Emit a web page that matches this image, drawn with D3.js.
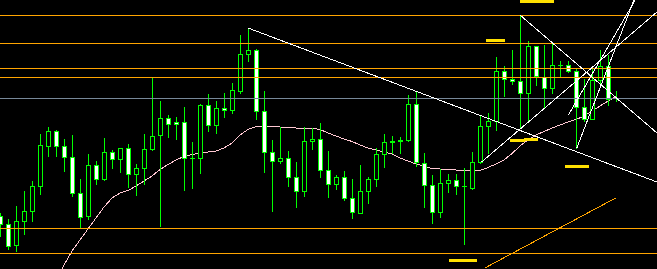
<!DOCTYPE html>
<html lang="en">
<head>
<meta charset="UTF-8">
<title>Candles</title>
<script src="https://d3js.org/d3.v7.min.js"></script>
<style>
  html, body { margin: 0; padding: 0; background: #000; overflow: hidden; }
  svg { display: block; }
</style>
</head>
<body>
<svg width="657" height="269"></svg>
<script>
// candle OHLC, one entry per bar
var opens  = [1.2484,1.2476,1.2455,1.2479,1.2489,1.2514,1.2554,1.2569,1.2554,1.2543,
              1.2507,1.2484,1.2535,1.2521,1.2548,1.2541,1.2552,1.2526,1.2532,1.2551,
              1.2565,1.2582,1.2578,1.2578,1.2542,1.2542,1.2595,1.2575,1.2592,1.2590,
              1.2609,1.2646,1.2650,1.2589,1.2548,1.2539,1.2542,1.2523,1.2509,1.2559,
              1.2561,1.2530,1.2516,1.2523,1.2502,1.2487,1.2509,1.2521,1.2546,1.2558,
              1.2559,1.2560,1.2596,1.2537,1.2515,1.2488,1.2517,1.2520,1.2514,1.2512,
              1.2538,1.2574,1.2579,1.2629,1.2621,1.2619,1.2607,1.2654,1.2623,1.2612,
              1.2635,1.2635,1.2629,1.2593,1.2581,1.2620,1.2634,1.2602];
var highs  = [1.2487,1.2481,1.2494,1.2509,1.2519,1.2566,1.2573,1.2570,1.2561,1.2565,
              1.2521,1.2546,1.2539,1.2562,1.2550,1.2552,1.2556,1.2536,1.2566,1.2623,
              1.2599,1.2585,1.2583,1.2593,1.2558,1.2596,1.2606,1.2599,1.2607,1.2617,
              1.2665,1.2672,1.2651,1.2609,1.2560,1.2573,1.2549,1.2538,1.2573,1.2572,
              1.2577,1.2549,1.2525,1.2529,1.2521,1.2535,1.2523,1.2552,1.2566,1.2564,
              1.2563,1.2605,1.2608,1.2547,1.2525,1.2531,1.2526,1.2526,1.2532,1.2548,
              1.2585,1.2587,1.2643,1.2634,1.2650,1.2685,1.2659,1.2654,1.2655,1.2658,
              1.2639,1.2639,1.2632,1.2621,1.2632,1.2650,1.2645,1.2609];
var lows   = [1.2464,1.2451,1.2449,1.2466,1.2479,1.2506,1.2544,1.2544,1.2529,1.2504,
              1.2473,1.2481,1.2516,1.2520,1.2532,1.2528,1.2513,1.2505,1.2516,1.2550,
              1.2474,1.2563,1.2561,1.2510,1.2512,1.2527,1.2569,1.2567,1.2583,1.2587,
              1.2607,1.2639,1.2581,1.2528,1.2489,1.2537,1.2514,1.2493,1.2504,1.2551,
              1.2523,1.2503,1.2511,1.2500,1.2482,1.2487,1.2497,1.2514,1.2533,1.2547,
              1.2547,1.2559,1.2534,1.2493,1.2477,1.2483,1.2508,1.2506,1.2456,1.2511,
              1.2537,1.2547,1.2570,1.2604,1.2616,1.2572,1.2579,1.2615,1.2592,1.2607,
              1.2623,1.2628,1.2552,1.2579,1.2581,1.2615,1.2595,1.2599];
var closes = [1.2476,1.2454,1.2479,1.2489,1.2514,1.2555,1.2569,1.2554,1.2543,1.2507,
              1.2483,1.2535,1.2521,1.2548,1.2541,1.2552,1.2526,1.2532,1.2551,1.2564,
              1.2582,1.2576,1.2576,1.2542,1.2542,1.2595,1.2575,1.2592,1.2590,1.2610,
              1.2646,1.2650,1.2589,1.2548,1.2539,1.2542,1.2523,1.2509,1.2559,1.2561,
              1.2530,1.2516,1.2523,1.2502,1.2488,1.2509,1.2521,1.2546,1.2558,1.2559,
              1.2560,1.2596,1.2538,1.2515,1.2488,1.2517,1.2520,1.2514,1.2514,1.2538,
              1.2574,1.2579,1.2629,1.2621,1.2619,1.2607,1.2654,1.2624,1.2612,1.2635,
              1.2635,1.2629,1.2593,1.2581,1.2620,1.2634,1.2601,1.2602];

// moving average, starts at bar 7
var maStart = 7;
var maValues = [1.2417,1.2435,1.2449,1.2460,1.2471,1.2482,1.2493,1.2502,1.2507,1.25095,
                1.2514,1.2519,1.2524,1.25305,1.25355,1.2540,1.25435,1.25455,1.2547,1.2548,
                1.2549,1.2552,1.2557,1.2565,1.25705,1.25735,1.2574,1.2574,1.2573,1.2573,
                1.2572,1.2572,1.2572,1.25705,1.2567,1.2564,1.2561,1.25585,1.2555,1.2552,
                1.2550,1.2548,1.2546,1.2542,1.2539,1.2536,1.2534,1.25315,1.2531,1.2531,
                1.2530,1.25295,1.2529,1.25295,1.25325,1.2536,1.2540,1.25465,1.2554,1.2560,
                1.2565,1.25685,1.2572,1.2575,1.2578,1.25805,1.2584,1.2589,1.2594,1.2599,
                1.26035];

// horizontal levels
var orangeLevels = [1.2685, 1.2657, 1.2632, 1.2623, 1.2472, 1.2447];
var grayLevels = [1.2602];

// short yellow marks: [from bar, to bar, price]
var yellowMarks = [[65, 69.25, 1.2699], [60.75, 63.1, 1.2660], [63.75, 65.6, 1.2560],
                   [65.5, 67.25, 1.2561], [70.6, 73.6, 1.2534], [56.1, 59.6, 1.2440]];

// trend lines: [bar1, price1, bar2, price2]
var whiteLines = [[31, 1.2672, 82.125, 1.2518],
                  [65, 1.2685, 82.125, 1.2567],
                  [60.2, 1.2538, 82.125, 1.2688],
                  [72.1, 1.2552, 79.25, 1.2700],
                  [71.05, 1.2585, 79.4, 1.2700]];
var orangeLines = [[60.6, 1.2432, 76.96, 1.2502]];

var svg = d3.select("svg");
var width = +svg.attr("width");
var height = +svg.attr("height");

svg.append("rect").attr("width", width).attr("height", height).attr("fill", "#000");

var x = d3.scaleLinear().domain([0, 82.125]).range([0, width]);
var y = d3.scaleLinear().domain([1.2700, 1.2431]).range([0, height]);

function px(v) { return Math.round(x(v)); }
function py(v) { return Math.round(y(v)); }

var candles = opens.map(function(o, i) {
    return {i: i, o: o, h: highs[i], l: lows[i], c: closes[i]};
});

// moving average
var ma = maValues.map(function(v, i) { return {i: i + maStart, v: v}; });
svg.append("path")
    .datum(ma)
    .attr("fill", "none")
    .attr("stroke", "#ffc8d2")
    .attr("stroke-width", 1)
    .attr("shape-rendering", "crispEdges")
    .attr("d", d3.line()
        .x(function(d) { return x(d.i); })
        .y(function(d) { return y(d.v); }));

// candles
var cg = svg.append("g").attr("shape-rendering", "crispEdges");
var g = cg.selectAll("g").data(candles).enter().append("g");

g.append("line")
    .attr("x1", function(d) { return px(d.i) + 0.5; })
    .attr("x2", function(d) { return px(d.i) + 0.5; })
    .attr("y1", function(d) { return py(d.h); })
    .attr("y2", function(d) { return py(d.l) + 1; })
    .attr("stroke", "#00ff00");

g.filter(function(d) { return py(d.o) !== py(d.c); })
    .append("rect")
    .attr("x", function(d) { return px(d.i) - 1.5; })
    .attr("width", 4)
    .attr("y", function(d) { return Math.min(py(d.o), py(d.c)) + 0.5; })
    .attr("height", function(d) { return Math.abs(py(d.o) - py(d.c)); })
    .attr("fill", function(d) { return d.c < d.o ? "#ffffff" : "#000000"; })
    .attr("stroke", "#00ff00");

g.filter(function(d) { return py(d.o) === py(d.c); })
    .append("line")
    .attr("x1", function(d) { return px(d.i) - 2; })
    .attr("x2", function(d) { return px(d.i) + 3; })
    .attr("y1", function(d) { return py(d.o) + 0.5; })
    .attr("y2", function(d) { return py(d.o) + 0.5; })
    .attr("stroke", "#00ff00");

// horizontal levels
var lg = svg.append("g").attr("shape-rendering", "crispEdges");
lg.selectAll(".orange").data(orangeLevels).enter().append("line")
    .attr("x1", 0).attr("x2", width)
    .attr("y1", function(d) { return py(d) + 0.5; })
    .attr("y2", function(d) { return py(d) + 0.5; })
    .attr("stroke", "#ffa500");
lg.selectAll(".gray").data(grayLevels).enter().append("line")
    .attr("x1", 0).attr("x2", width)
    .attr("y1", function(d) { return py(d) + 0.5; })
    .attr("y2", function(d) { return py(d) + 0.5; })
    .attr("stroke", "#778899");

// trend lines
var tg = svg.append("g").attr("shape-rendering", "crispEdges");
tg.selectAll(".w").data(whiteLines).enter().append("line")
    .attr("x1", function(d) { return x(d[0]); })
    .attr("y1", function(d) { return y(d[1]); })
    .attr("x2", function(d) { return x(d[2]); })
    .attr("y2", function(d) { return y(d[3]); })
    .attr("stroke", "#ffffff");
tg.selectAll(".o").data(orangeLines).enter().append("line")
    .attr("x1", function(d) { return x(d[0]); })
    .attr("y1", function(d) { return y(d[1]); })
    .attr("x2", function(d) { return x(d[2]); })
    .attr("y2", function(d) { return y(d[3]); })
    .attr("stroke", "#ffa500");

// yellow marks
svg.append("g").attr("shape-rendering", "crispEdges")
    .selectAll("rect").data(yellowMarks).enter().append("rect")
    .attr("x", function(d) { return px(d[0]); })
    .attr("width", function(d) { return px(d[1]) - px(d[0]); })
    .attr("y", function(d) { return py(d[2]) - 1; })
    .attr("height", 3)
    .attr("fill", "#ffe000");
</script>
</body>
</html>
